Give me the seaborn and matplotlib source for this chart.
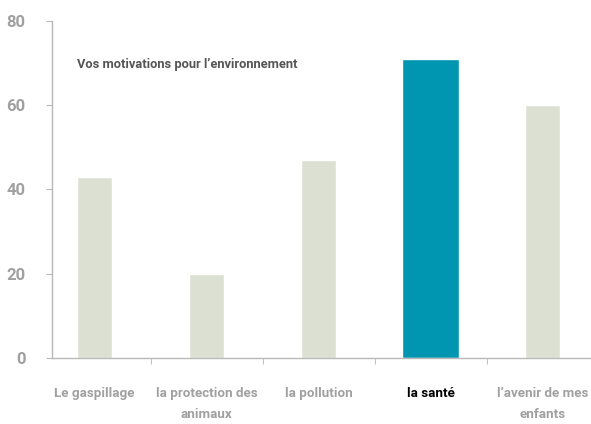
import pandas as pd
import matplotlib.pyplot as plt
import seaborn as sns

categories = ["Le gaspillage", "la protection des\nanimaux", "la pollution",
              "la santé", "l’avenir de mes\nenfants"]
values = [43, 20, 47, 71, 60]
highlight = "la santé"
title = "Vos motivations pour l’environnement"

light = "#dbe0d3"
teal = "#0095b0"
grey = "#a0a0a0"

sns.set_style("white")
plt.rcParams['font.family'] = ['Roboto', 'DejaVu Sans']
plt.rcParams['font.weight'] = 'bold'

df = pd.DataFrame({"cat": categories, "val": values})
palette = {c: (teal if c == highlight else light) for c in categories}

fig = plt.figure(figsize=(5.91, 4.24), dpi=100)
ax = fig.add_axes([0.088, 0.156, 0.912, 0.795])
sns.barplot(data=df, x="cat", y="val", hue="cat", palette=palette,
            width=0.31, saturation=1, legend=False, ax=ax)

# the highlighted bar is wider
for patch, cat in zip(ax.patches, categories):
    if cat == highlight:
        cx = patch.get_x() + patch.get_width() / 2
        patch.set_width(0.51)
        patch.set_x(cx - 0.255)

ax.set_xlim(-0.38, 4.43)
ax.set_ylim(0, 80)
ax.set_yticks([0, 20, 40, 60, 80])
ax.set_xlabel("")
ax.set_ylabel("")

for s in ["top", "right"]:
    ax.spines[s].set_visible(False)
for s in ["left", "bottom"]:
    ax.spines[s].set_color("#b8b8b8")
    ax.spines[s].set_linewidth(1)

ax.tick_params(axis="y", length=4, color="#b8b8b8", labelcolor=grey,
               labelsize=12, pad=15, left=True)
ax.tick_params(axis="x", length=0, labelcolor=grey, labelsize=9.6, pad=21)
ax.set_xticks(range(len(categories)))
ax.set_xticklabels(categories, linespacing=1.75, va="top")
ax.set_xticks([i + 0.5 for i in range(len(categories) - 1)], minor=True)
ax.tick_params(axis="x", which="minor", length=4, color="#b8b8b8", bottom=True)

for lbl in ax.get_xticklabels():
    if lbl.get_text() == highlight:
        lbl.set_color("black")

ax.text(0.046, 0.87, title, transform=ax.transAxes, fontsize=9.3,
        color="#555555", ha="left", va="center")

plt.savefig("out.png", dpi=100)
plt.close()
